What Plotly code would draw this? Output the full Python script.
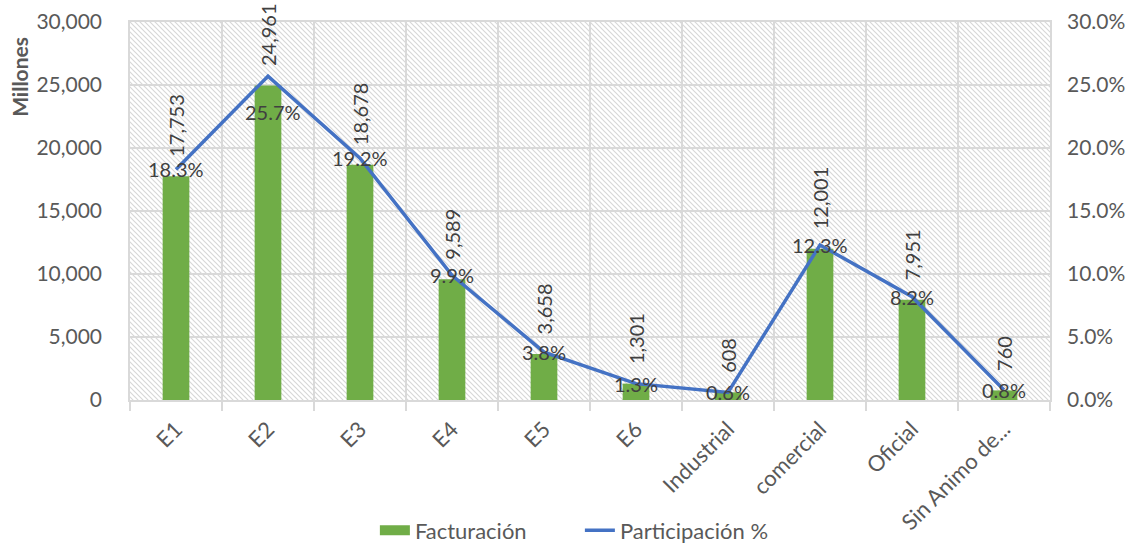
import base64
import plotly.graph_objects as go

# Billing by customer segment (millions) and its share of the total
categorias = ["E1", "E2", "E3", "E4", "E5", "E6", "Industrial", "comercial", "Oficial", "Sin Animo de..."]
facturacion = [17753, 24961, 18678, 9589, 3658, 1301, 608, 12001, 7951, 760]
participacion = [0.183, 0.257, 0.192, 0.099, 0.038, 0.013, 0.006, 0.123, 0.082, 0.008]

# Per-segment vertical nudge (px) for percentage labels that would collide
pct_label_shift = {"E2": -36}

GREEN = "#70AD47"
BLUE = "#4472C4"
GRID = "#D9D9D9"
TICK_TXT = "#595959"
LABEL_TXT = "#404040"
FONT = "Lato"

fig = go.Figure()

fig.add_trace(go.Bar(
    x=categorias, y=facturacion, name="Facturación", showlegend=False,
    marker=dict(color=GREEN, line=dict(width=0)), width=0.29,
))
fig.add_trace(go.Scatter(
    x=categorias, y=participacion, name="Participación %", yaxis="y2",
    mode="lines", line=dict(color=BLUE, width=3.5), showlegend=False,
))
# Legend entries: a wide green block for the bars and a blue stroke for the line
fig.add_trace(go.Scatter(
    x=[None], y=[None], name="Facturación", mode="lines",
    line=dict(color=GREEN, width=14), legendrank=1,
))
fig.add_trace(go.Scatter(
    x=[None], y=[None], name="Participación %", mode="lines", yaxis="y2",
    line=dict(color=BLUE, width=3.5), legendrank=2,
))

annotations = []
for c, v in zip(categorias, facturacion):
    annotations.append(dict(
        x=c, y=v, xref="x", yref="y", text=f"{v:,}", textangle=-90,
        showarrow=False, yanchor="bottom", xanchor="center", yshift=17,
        font=dict(family=FONT, size=20, color=LABEL_TXT),
    ))
for c, p in zip(categorias, participacion):
    annotations.append(dict(
        x=c, y=p, xref="x", yref="y2", text=f"{p * 100:.1f}%",
        showarrow=False, yanchor="middle", xanchor="center",
        yshift=pct_label_shift.get(c, 0), xshift=5 if c in pct_label_shift else 0,
        font=dict(family=FONT, size=20, color=LABEL_TXT),
    ))
# Left axis caption, set near the top of the axis
annotations.append(dict(
    x=-0.1195, y=0.855, xref="paper", yref="paper", text="<b>Millones</b>",
    textangle=-90, showarrow=False, xanchor="center", yanchor="middle",
    font=dict(family=FONT, size=21, color=TICK_TXT),
))

# Light diagonal hatch behind the plotting area
hatch_svg = (
    '<svg xmlns="http://www.w3.org/2000/svg" width="920" height="378" '
    'viewBox="0 0 920 378" preserveAspectRatio="none">'
    '<defs><pattern id="h" width="5" height="5" patternUnits="userSpaceOnUse">'
    '<path d="M0,0 L5,5 M-1,4 L1,6 M4,-1 L6,1" stroke="#d7d7d7" stroke-width="1.15"/>'
    '</pattern></defs><rect width="100%" height="100%" fill="url(#h)"/></svg>'
)
hatch_src = "data:image/svg+xml;base64," + base64.b64encode(hatch_svg.encode()).decode()

fig.update_layout(
    width=1143, height=544,
    margin=dict(l=130, r=93, t=22, b=144, autoexpand=False),
    paper_bgcolor="white", plot_bgcolor="rgba(0,0,0,0)",
    font=dict(family=FONT, size=20, color=TICK_TXT),
    bargap=0.71,
    showlegend=True,
    legend=dict(orientation="h", x=0.489, xanchor="center", y=-0.345, yanchor="middle",
                font=dict(family=FONT, size=22, color=TICK_TXT),
                traceorder="normal", entrywidth=160, entrywidthmode="pixels"),
    annotations=annotations,
    images=[dict(source=hatch_src, xref="paper", yref="paper", x=0, y=1,
                 sizex=1, sizey=1, xanchor="left", yanchor="top",
                 sizing="stretch", layer="below")],
    xaxis=dict(
        type="category", tickson="boundaries", showgrid=True, gridcolor=GRID, gridwidth=1.5,
        ticks="outside", ticklen=9, tickcolor=GRID, tickwidth=1.5, tickangle=-45,
        showline=True, linecolor=GRID, linewidth=1.5, mirror=True, automargin=False,
        ticklabelstandoff=6,
        tickfont=dict(family=FONT, size=22, color=TICK_TXT),
    ),
    yaxis=dict(
        range=[0, 30000], dtick=5000, tickformat=",", showgrid=True, gridcolor=GRID,
        gridwidth=1.5, zeroline=False, showline=True, linecolor=GRID, linewidth=1.5,
        mirror=True, ticklabelstandoff=22, automargin=False,
        tickfont=dict(family=FONT, size=21, color=TICK_TXT),
    ),
    yaxis2=dict(
        range=[0, 0.30], dtick=0.05, tickformat=".1%", overlaying="y", side="right",
        showgrid=False, zeroline=False, showline=False, ticklabelstandoff=16,
        automargin=False,
        tickfont=dict(family=FONT, size=21, color=TICK_TXT),
    ),
)

fig.write_html("out.html")
